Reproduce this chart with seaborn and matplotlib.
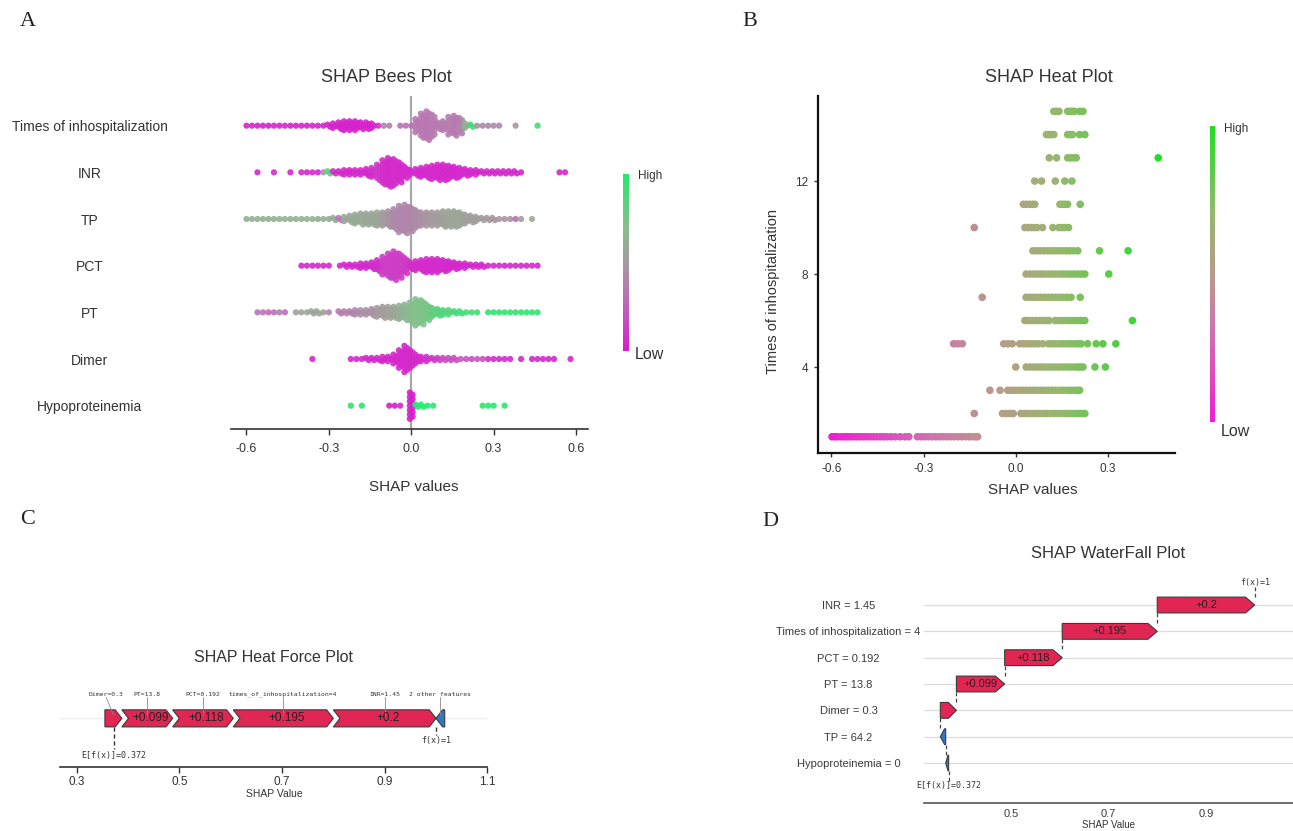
import numpy as np
import pandas as pd
import matplotlib
matplotlib.use("Agg")
import matplotlib.pyplot as plt
import seaborn as sns
from matplotlib.colors import LinearSegmentedColormap, Normalize
from matplotlib.cm import ScalarMappable
from matplotlib.patches import Polygon
from matplotlib.ticker import FormatStrFormatter

# ======================= DATA =======================
# ---- Panel A: beeswarm (counts of points per 0.02-wide SHAP bin, and feature colour 0=low .. 1=high)
bee_features = ["Times of inhospitalization", "INR", "TP", "PCT", "PT", "Dimer", "Hypoproteinemia"]
bee_bins = [-0.60, -0.58, -0.56, -0.54, -0.52, -0.50, -0.48, -0.46, -0.44, -0.42,
            -0.40, -0.38, -0.36, -0.34, -0.32, -0.30, -0.28, -0.26, -0.24, -0.22,
            -0.20, -0.18, -0.16, -0.14, -0.12, -0.10, -0.08, -0.06, -0.04, -0.02,
            0.00, 0.02, 0.04, 0.06, 0.08, 0.10, 0.12, 0.14, 0.16, 0.18,
            0.20, 0.22, 0.24, 0.26, 0.28, 0.30, 0.32, 0.34, 0.36, 0.38,
            0.40, 0.42, 0.44, 0.46, 0.48, 0.50, 0.52, 0.54, 0.56, 0.58, 0.60]

times_n = [1, 1, 1, 1, 1, 1, 1, 1, 1, 1,
           1, 1, 1, 1, 1, 2, 3, 4, 5, 5,
           5, 4, 4, 3, 1, 1, 1, 0, 1, 1,
           1, 7, 12, 14, 11, 4, 5, 9, 10, 8,
           3, 2, 1, 1, 1, 1, 1, 0, 0, 1,
           0, 0, 0, 1, 0, 0, 0, 0, 0, 0, 0]
times_c = [0.02, 0.02, 0.02, 0.02, 0.02, 0.02, 0.02, 0.02, 0.02, 0.02,
           0.02, 0.02, 0.02, 0.02, 0.02, 0.02, 0.02, 0.02, 0.02, 0.02,
           0.02, 0.02, 0.02, 0.02, 0.05, 0.38, 0.38, 0.0, 0.3, 0.3,
           0.3, 0.33, 0.35, 0.33, 0.36, 0.33, 0.35, 0.37, 0.33, 0.38,
           0.6, 0.9, 0.45, 0.42, 0.4, 0.42, 0.4, 0.0, 0.0, 0.48,
           0.0, 0.0, 0.0, 0.95, 0.0, 0.0, 0.0, 0.0, 0.0, 0.0, 0.0]

inr_n = [0, 0, 1, 0, 0, 1, 0, 0, 1, 0,
         1, 1, 1, 1, 1, 2, 2, 2, 3, 3,
         3, 3, 4, 5, 8, 12, 14, 13, 10, 6,
         3, 4, 5, 6, 7, 8, 8, 7, 6, 5,
         4, 3, 3, 2, 2, 2, 2, 2, 2, 2,
         1, 0, 0, 0, 0, 0, 0, 1, 1, 0, 0]
inr_c = [0.04, 0.04, 0.04, 0.04, 0.04, 0.04, 0.04, 0.04, 0.04, 0.04,
         0.04, 0.04, 0.04, 0.04, 0.45, 0.85, 0.04, 0.04, 0.04, 0.04,
         0.04, 0.04, 0.04, 0.06, 0.1, 0.06, 0.05, 0.06, 0.05, 0.04,
         0.04, 0.04, 0.04, 0.04, 0.04, 0.04, 0.04, 0.04, 0.04, 0.04,
         0.04, 0.04, 0.04, 0.04, 0.04, 0.04, 0.04, 0.04, 0.04, 0.04,
         0.04, 0.04, 0.04, 0.04, 0.04, 0.04, 0.04, 0.04, 0.04, 0.04, 0.04]

tp_n = [1, 1, 1, 1, 1, 1, 1, 1, 1, 1,
        1, 1, 1, 1, 1, 1, 2, 2, 3, 4,
        5, 6, 6, 6, 7, 7, 8, 10, 13, 14,
        12, 9, 7, 7, 7, 7, 8, 8, 8, 7,
        5, 4, 3, 2, 2, 2, 1, 1, 1, 1,
        1, 0, 1, 0, 0, 0, 0, 0, 0, 0, 0]
tp_c = [0.62, 0.62, 0.62, 0.62, 0.62, 0.62, 0.62, 0.62, 0.62, 0.62,
        0.62, 0.62, 0.62, 0.6, 0.6, 0.6, 0.58, 0.35, 0.58, 0.58,
        0.58, 0.58, 0.56, 0.56, 0.55, 0.5, 0.45, 0.42, 0.4, 0.4,
        0.4, 0.42, 0.45, 0.48, 0.5, 0.5, 0.52, 0.55, 0.55, 0.55,
        0.52, 0.5, 0.5, 0.5, 0.5, 0.48, 0.48, 0.48, 0.45, 0.3,
        0.5, 0.0, 0.62, 0.0, 0.0, 0.0, 0.0, 0.0, 0.0, 0.0, 0.0]

pct_n = [0, 0, 0, 0, 0, 0, 0, 0, 0, 0,
         1, 1, 1, 1, 1, 1, 0, 1, 2, 2,
         2, 3, 3, 4, 6, 9, 12, 14, 12, 8,
         4, 5, 6, 7, 7, 7, 6, 5, 4, 3,
         3, 2, 2, 2, 1, 1, 1, 1, 1, 1,
         1, 1, 1, 1, 0, 0, 0, 0, 0, 0, 0]
pct_c = [0.04, 0.04, 0.04, 0.04, 0.04, 0.04, 0.04, 0.04, 0.04, 0.04,
         0.04, 0.04, 0.04, 0.04, 0.04, 0.04, 0.04, 0.04, 0.04, 0.04,
         0.04, 0.04, 0.04, 0.05, 0.06, 0.12, 0.12, 0.12, 0.12, 0.1,
         0.06, 0.05, 0.05, 0.05, 0.05, 0.05, 0.05, 0.04, 0.04, 0.04,
         0.04, 0.04, 0.04, 0.04, 0.04, 0.04, 0.04, 0.04, 0.04, 0.04,
         0.04, 0.04, 0.04, 0.04, 0.04, 0.04, 0.04, 0.04, 0.04, 0.04, 0.04]

pt_n = [0, 0, 1, 1, 1, 1, 1, 1, 0, 1,
        1, 1, 2, 2, 1, 1, 0, 2, 2, 2,
        3, 3, 3, 4, 5, 6, 6, 6, 7, 8,
        10, 13, 12, 8, 5, 4, 3, 3, 2, 2,
        1, 1, 1, 0, 1, 1, 1, 1, 1, 1,
        1, 1, 1, 1, 0, 0, 0, 0, 0, 0, 0]
pt_c = [0.0, 0.0, 0.3, 0.32, 0.28, 0.3, 0.35, 0.3, 0.0, 0.5,
        0.55, 0.55, 0.55, 0.58, 0.5, 0.4, 0.0, 0.35, 0.4, 0.35,
        0.4, 0.45, 0.45, 0.45, 0.5, 0.5, 0.55, 0.55, 0.6, 0.65,
        0.68, 0.72, 0.72, 0.75, 0.8, 0.85, 0.85, 0.85, 0.88, 0.9,
        0.9, 0.9, 0.9, 0.0, 0.95, 0.95, 0.95, 0.95, 0.95, 0.95,
        0.95, 0.95, 0.95, 0.95, 0.0, 0.0, 0.0, 0.0, 0.0, 0.0, 0.0]

dimer_n = [0, 0, 0, 0, 0, 0, 0, 0, 0, 0,
           0, 0, 1, 0, 0, 0, 0, 0, 0, 1,
           1, 1, 2, 2, 2, 3, 3, 5, 9, 13,
           9, 5, 3, 3, 2, 2, 2, 2, 2, 1,
           1, 1, 1, 1, 1, 1, 1, 1, 1, 0,
           1, 0, 1, 1, 1, 1, 1, 0, 0, 1, 0]
dimer_c = [0.04, 0.04, 0.04, 0.04, 0.04, 0.04, 0.04, 0.04, 0.04, 0.04,
           0.04, 0.04, 0.04, 0.04, 0.04, 0.04, 0.04, 0.04, 0.04, 0.04,
           0.04, 0.04, 0.04, 0.04, 0.04, 0.04, 0.04, 0.04, 0.04, 0.04,
           0.04, 0.05, 0.06, 0.08, 0.1, 0.12, 0.18, 0.2, 0.18, 0.22,
           0.2, 0.18, 0.22, 0.2, 0.06, 0.05, 0.05, 0.05, 0.05, 0.04,
           0.04, 0.04, 0.04, 0.04, 0.04, 0.04, 0.04, 0.04, 0.04, 0.04, 0.04]

hypo_n = [0, 0, 0, 0, 0, 0, 0, 0, 0, 0,
          0, 0, 0, 0, 0, 0, 0, 0, 0, 1,
          0, 1, 0, 0, 0, 0, 1, 1, 1, 0,
          13, 2, 2, 1, 1, 0, 0, 0, 0, 0,
          0, 0, 0, 1, 1, 1, 0, 1, 0, 0,
          0, 0, 0, 0, 0, 0, 0, 0, 0, 0, 0]
hypo_c = [0.0, 0.0, 0.0, 0.0, 0.0, 0.0, 0.0, 0.0, 0.0, 0.0,
          0.0, 0.0, 0.0, 0.0, 0.0, 0.0, 0.0, 0.0, 0.0, 1.0,
          0.0, 1.0, 0.0, 0.0, 0.0, 0.0, 0.0, 0.0, 0.05, 0.0,
          0.0, 1.0, 1.0, 1.0, 1.0, 0.0, 0.0, 0.0, 0.0, 0.0,
          0.0, 0.0, 0.0, 1.0, 1.0, 1.0, 0.0, 1.0, 0.0, 0.0,
          0.0, 0.0, 0.0, 0.0, 0.0, 0.0, 0.0, 0.0, 0.0, 0.0, 0.0]

bee_counts = [times_n, inr_n, tp_n, pct_n, pt_n, dimer_n, hypo_n]
bee_colors = [times_c, inr_c, tp_c, pct_c, pt_c, dimer_c, hypo_c]

# ---- Panel B: dependence plot (SHAP values per number of hospitalisations)
heat_times = [15, 14, 13, 12, 11, 10, 9, 8, 7, 6, 5, 4, 3, 2, 1]
heat_shap = [
    [0.124, 0.132, 0.141, 0.169, 0.178, 0.186, 0.191, 0.208, 0.219],
    [0.100, 0.108, 0.116, 0.124, 0.169, 0.177, 0.185, 0.208, 0.225],
    [0.109, 0.133, 0.169, 0.178, 0.188, 0.197, 0.464],
    [0.062, 0.084, 0.129, 0.160, 0.183],
    [0.025, 0.035, 0.045, 0.055, 0.062, 0.144, 0.152, 0.160, 0.169, 0.210],
    [-0.135, 0.030, 0.040, 0.050, 0.060, 0.070, 0.087, 0.121, 0.140, 0.150, 0.160, 0.172],
    [0.056, 0.068, 0.080, 0.092, 0.104, 0.116, 0.128, 0.140, 0.152, 0.164, 0.176, 0.188, 0.202,
     0.273, 0.366],
    [0.034, 0.046, 0.058, 0.070, 0.082, 0.094, 0.106, 0.118, 0.130, 0.142, 0.154, 0.166, 0.178,
     0.190, 0.202, 0.214, 0.225, 0.303],
    [-0.109, 0.034, 0.046, 0.058, 0.070, 0.082, 0.094, 0.106, 0.118, 0.130, 0.142, 0.154, 0.166,
     0.180, 0.210],
    [0.030, 0.042, 0.054, 0.066, 0.078, 0.090, 0.100, 0.109, 0.129, 0.141, 0.153, 0.165, 0.177,
     0.189, 0.201, 0.213, 0.225, 0.380],
    [-0.202, -0.188, -0.174, -0.039, -0.025, -0.011, 0.013, 0.025, 0.037, 0.049, 0.061, 0.073,
     0.088, 0.107, 0.119, 0.131, 0.143, 0.155, 0.167, 0.179, 0.191, 0.203, 0.213, 0.234, 0.262,
     0.284, 0.326],
    [0.000, 0.034, 0.046, 0.058, 0.070, 0.082, 0.094, 0.106, 0.118, 0.130, 0.142, 0.154, 0.166,
     0.178, 0.190, 0.202, 0.210, 0.219, 0.258, 0.292],
    [-0.084, -0.051, -0.026, -0.014, -0.002, 0.010, 0.022, 0.034, 0.046, 0.058, 0.070, 0.082,
     0.094, 0.106, 0.118, 0.130, 0.142, 0.154, 0.166, 0.178, 0.190, 0.200, 0.208],
    [-0.135, -0.043, -0.031, -0.019, -0.008, 0.017, 0.029, 0.041, 0.053, 0.065, 0.077, 0.089,
     0.101, 0.113, 0.125, 0.137, 0.149, 0.161, 0.173, 0.185, 0.197, 0.209, 0.217, 0.225],
    [-0.598, -0.588, -0.579, -0.566, -0.557, -0.548, -0.539, -0.528, -0.517, -0.506, -0.495,
     -0.484, -0.473, -0.462, -0.451, -0.440, -0.429, -0.418, -0.405, -0.392, -0.376, -0.360,
     -0.348, -0.320, -0.308, -0.296, -0.284, -0.272, -0.260, -0.248, -0.236, -0.224, -0.212,
     -0.200, -0.188, -0.176, -0.164, -0.152, -0.140, -0.130, -0.124],
]

# ---- Panels C and D: single-sample explanation
wf_labels = ["INR = 1.45", "Times of inhospitalization = 4", "PCT = 0.192", "PT = 13.8",
             "Dimer = 0.3", "TP = 64.2", "Hypoproteinemia = 0"]
wf_values = [0.200, 0.195, 0.118, 0.099, 0.033, -0.011, -0.006]
base_value = 0.372

force_labels = ["Dimer=0.3", "PT=13.8", "PCT=0.192", "times_of_inhospitalization=4", "INR=1.45"]
force_values = [0.033, 0.099, 0.118, 0.195, 0.200]
force_other_label = "2 other features"
force_other_value = -0.017

# ======================= STYLE =======================
sns.set_theme(style="white")
plt.rcParams["font.family"] = ["Liberation Sans", "DejaVu Sans"]
plt.rcParams["axes.unicode_minus"] = False

W, H = 1293, 831
fig = plt.figure(figsize=(W / 100, H / 100), dpi=100)
fig.patch.set_facecolor("white")
TXT = "#333333"
RED = "#e22654"
BLUE = "#2f7ac4"
MONO = "DejaVu Sans Mono"


def px_axes(left, top, right, bottom):
    return fig.add_axes([left / W, 1 - bottom / H, (right - left) / W, (bottom - top) / H])


def ftext(x, y, s, **kw):
    return fig.text(x / W, 1 - y / H, s, **kw)


cmap_bees = LinearSegmentedColormap.from_list(
    "bees", [(0.0, "#d81ccf"), (0.3, "#bd6fb7"), (0.5, "#a39c9c"), (0.7, "#86bf8c"), (1.0, "#22ea6c")])
cmap_heat = LinearSegmentedColormap.from_list(
    "heat", [(0.0, "#ee1ed2"), (0.3, "#d070b0"), (0.5, "#b99a88"), (0.7, "#97b76e"), (1.0, "#1fe022")])

# panel letters
for lab, (lx, ly) in zip("ABCD", [(28, 21), (750, 21), (28, 520), (770, 521)]):
    ftext(lx, ly, lab, ha="center", va="center", fontsize=16,
          family="Liberation Serif", color="#222222")

# ======================= PANEL A =======================
axA = px_axes(231, 96, 588, 429)
step = 0.047
rows_x, rows_y, rows_c = [], [], []
for r, (cnts, cols) in enumerate(zip(bee_counts, bee_colors)):
    for b, n, c in zip(bee_bins, cnts, cols):
        for k in range(n):
            shift = 0.0 if n == 1 else (0.005 if k % 2 else -0.005)
            rows_x.append(b + shift)
            rows_y.append(r + (k - (n - 1) / 2) * step)
            rows_c.append(c)
dfA = pd.DataFrame({"shap": rows_x, "row": rows_y, "val": rows_c})
axA.axvline(0, color="#a8a8a8", lw=1.6, zorder=1)
sns.scatterplot(data=dfA, x="shap", y="row", hue="val", palette=cmap_bees, hue_norm=(0, 1),
                s=20, linewidth=0, alpha=0.9, legend=False, ax=axA, zorder=2)
axA.set_xlim(-0.6564, 0.6437)
axA.set_ylim(6.5, -0.636)
axA.set_xticks([-0.6, -0.3, 0.0, 0.3, 0.6])
axA.xaxis.set_major_formatter(FormatStrFormatter("%.1f"))
axA.set_yticks(range(len(bee_features)))
axA.set_yticklabels(bee_features)
axA.tick_params(axis="y", length=0, pad=101.9, labelsize=10, labelcolor=TXT)
for t in axA.get_yticklabels():
    t.set_ha("center")
axA.tick_params(axis="x", length=4, width=1, color="#333333", labelsize=9, labelcolor=TXT,
                pad=6, bottom=True)
for s in ["top", "left", "right"]:
    axA.spines[s].set_visible(False)
axA.spines["bottom"].set_color("#333333")
axA.spines["bottom"].set_linewidth(1.2)
axA.set_xlabel("SHAP values", fontsize=11, color=TXT)
axA.set_ylabel("")
axA.xaxis.set_label_coords((413.6 - 231) / 357, (429 - 487) / 333)
axA.xaxis.label.set_va("center")
ftext(386, 77, "SHAP Bees Plot", ha="center", va="center", fontsize=13, color=TXT)

caxA = px_axes(623, 174, 628.5, 351)
cbA = fig.colorbar(ScalarMappable(norm=Normalize(0, 1), cmap=cmap_bees), cax=caxA)
cbA.outline.set_visible(False)
cbA.set_ticks([])
ftext(638, 176, "High", ha="left", va="center", fontsize=8.5, color=TXT)
ftext(635, 355, "Low", ha="left", va="center", fontsize=11.5, color=TXT)

# ======================= PANEL B =======================
axB = px_axes(817.6, 96, 1174.5, 453.3)
bx, by = [], []
for t, vals in zip(heat_times, heat_shap):
    for v in vals:
        bx.append(v)
        by.append(t)
dfB = pd.DataFrame({"shap": bx, "times": by})
sns.scatterplot(data=dfB, x="shap", y="times", hue="shap", palette=cmap_heat,
                hue_norm=(-0.6, 0.464), s=30, linewidth=0, legend=False, ax=axB)
axB.set_xlim(-0.645, 0.517)
axB.set_ylim(0.288, 15.66)
axB.set_xticks([-0.6, -0.3, 0.0, 0.3])
axB.xaxis.set_major_formatter(FormatStrFormatter("%.1f"))
axB.set_yticks([4, 8, 12])
for s in ["top", "right"]:
    axB.spines[s].set_visible(False)
for s in ["left", "bottom"]:
    axB.spines[s].set_color("#111111")
    axB.spines[s].set_linewidth(1.6)
axB.tick_params(axis="both", length=3, width=1, color="#333333", labelsize=8.5,
                labelcolor=TXT, bottom=True, left=True, pad=4)
axB.set_xlabel("SHAP values", fontsize=11, color=TXT)
axB.set_ylabel("Times of inhospitalization", fontsize=10.5, color=TXT)
axB.xaxis.set_label_coords((1033 - 817.6) / 356.9, (453.3 - 490) / 357.3)
axB.xaxis.label.set_va("center")
axB.yaxis.set_label_coords((772.8 - 817.6) / 356.9, (453.3 - 291.7) / 357.3)
axB.yaxis.label.set_va("center")
ftext(1049, 77, "SHAP Heat Plot", ha="center", va="center", fontsize=13, color=TXT)

caxB = px_axes(1209.5, 126, 1215, 422)
cbB = fig.colorbar(ScalarMappable(norm=Normalize(0, 1), cmap=cmap_heat), cax=caxB)
cbB.outline.set_visible(False)
cbB.set_ticks([])
ftext(1224, 129, "High", ha="left", va="center", fontsize=8.5, color=TXT)
ftext(1221, 432, "Low", ha="left", va="center", fontsize=11.5, color=TXT)

# ======================= PANEL C (force plot) =======================
fx = base_value + sum(wf_values)
axC = px_axes(60, 676, 487.3, 766.7)
axC.set_xlim(0.2675, 1.1)
axC.set_ylim(0, 1)
yc, hh, headC = 0.533, 0.094, 0.013
axC.axhline(yc, color="#eeeeee", lw=1.0, zorder=0)
x = fx - sum(force_values)
for i, (lab, v) in enumerate(zip(force_labels, force_values)):
    x0, x1 = x, x + v
    hd = min(headC, v)
    pts = [(x0, yc - hh), (x1 - hd, yc - hh), (x1, yc), (x1 - hd, yc + hh), (x0, yc + hh)]
    if i > 0:
        pts.append((x0 + hd, yc))
    axC.add_patch(Polygon(pts, closed=True, fc=RED, ec="#3a3a3a", lw=0.8, zorder=2))
    cx = (x0 + x1) / 2
    if v > 0.05:
        axC.text(cx + hd / 2, yc, f"+{v:g}", ha="center", va="center", fontsize=8.5,
                 color="#222222", zorder=4)
    lx = cx if i > 0 else cx - 0.014
    axC.text(lx, 0.80, lab, ha="center", va="center", fontsize=4.6, family=MONO, color=TXT)
    axC.plot([lx, cx], [0.765, yc + 0.04], color="#8a8a8a", lw=0.6, zorder=3)
    x = x1
# negative ("2 other features")
x0, x1 = fx - force_other_value, fx
hd = min(headC, abs(force_other_value) * 0.8)
pts = [(x0, yc - hh), (x1 + hd, yc - hh), (x1, yc), (x1 + hd, yc + hh), (x0, yc + hh)]
axC.add_patch(Polygon(pts, closed=True, fc=BLUE, ec="#3a3a3a", lw=0.8, zorder=2))
ocx = (x0 + x1) / 2
axC.text(ocx, 0.80, force_other_label, ha="center", va="center", fontsize=4.6, family=MONO,
         color=TXT)
axC.plot([ocx, ocx], [0.765, yc + 0.04], color="#8a8a8a", lw=0.6, zorder=3)
# base / output markers
axC.plot([base_value, base_value], [yc - hh, 0.2], color="#333333", lw=1.0, ls=(0, (3, 2)))
axC.text(base_value, 0.122, f"E[f(x)]={base_value}", ha="center", va="center", fontsize=6,
         family=MONO, color=TXT)
axC.plot([fx, fx], [yc - hh, 0.35], color="#333333", lw=1.0, ls=(0, (3, 2)))
axC.text(fx, 0.289, f"f(x)={fx:g}", ha="center", va="center", fontsize=6, family=MONO, color=TXT)
axC.set_xticks([0.3, 0.5, 0.7, 0.9, 1.1])
axC.xaxis.set_major_formatter(FormatStrFormatter("%.1f"))
axC.set_yticks([])
for s in ["top", "left", "right"]:
    axC.spines[s].set_visible(False)
axC.spines["bottom"].set_color("#333333")
axC.spines["bottom"].set_linewidth(1.2)
axC.tick_params(axis="x", length=4, width=1, color="#333333", labelsize=8.5, labelcolor=TXT,
                bottom=True, pad=3)
axC.set_xlabel("SHAP Value", fontsize=7.5, color=TXT)
axC.xaxis.set_label_coords((274 - 60) / 427.3, (766.7 - 794) / 90.7)
axC.xaxis.label.set_va("center")
ftext(274, 657, "SHAP Heat Force Plot", ha="center", va="center", fontsize=11.5, color=TXT)

# ======================= PANEL D (waterfall) =======================
axD = px_axes(924, 570, 1293, 802.5)
axD.set_xlim(0.3215, 1.0785)
axD.set_ylim(7.5, -1.33)
nrow = len(wf_labels)
for r in range(nrow):
    axD.axhline(r, color="#dcdcdc", lw=0.9, zorder=0)
bh, headD = 0.3, 0.019
starts, ends = [0.0] * nrow, [0.0] * nrow
cur = base_value
for r in range(nrow - 1, -1, -1):
    starts[r] = cur
    ends[r] = cur + wf_values[r]
    cur = ends[r]
for r in range(nrow):
    s0, e0, v = starts[r], ends[r], wf_values[r]
    hd = min(headD, abs(v) * 0.5)
    if v >= 0:
        pts = [(s0, r - bh), (e0 - hd, r - bh), (e0, r), (e0 - hd, r + bh), (s0, r + bh)]
        fc = RED
    else:
        hd = min(headD, abs(v) * 0.8)
        pts = [(s0, r - bh), (e0 + hd, r - bh), (e0, r), (e0 + hd, r + bh), (s0, r + bh)]
        fc = BLUE
    axD.add_patch(Polygon(pts, closed=True, fc=fc, ec="#3a3a3a", lw=0.8, zorder=2))
    if abs(v) > 0.05:
        axD.text((s0 + e0) / 2, r, f"+{v:g}", ha="center", va="center", fontsize=8,
                 color="#222222", zorder=4)
    if r < nrow - 1:
        axD.plot([s0, s0], [r + bh, r + 1 - bh], color="#444444", lw=0.9, ls=(0, (3, 2)), zorder=3)
axD.plot([ends[0], ends[0]], [-bh, -0.68], color="#444444", lw=0.9, ls=(0, (3, 2)))
axD.text(ends[0], -0.86, f"f(x)={ends[0]:g}", ha="center", va="center", fontsize=6,
         family=MONO, color=TXT)
axD.plot([base_value, base_value], [nrow - 1 + bh, nrow - 1 + 0.72], color="#444444", lw=0.9,
         ls=(0, (3, 2)))
axD.text(base_value, nrow - 1 + 0.86, f"E[f(x)]={base_value}", ha="center", va="center",
         fontsize=6, family=MONO, color=TXT)
axD.set_yticks(range(nrow))
axD.set_yticklabels(wf_labels)
axD.tick_params(axis="y", length=0, pad=54.4, labelsize=8, labelcolor="#3a3a3a")
for t in axD.get_yticklabels():
    t.set_ha("center")
axD.set_xticks([0.5, 0.7, 0.9])
axD.xaxis.set_major_formatter(FormatStrFormatter("%.1f"))
axD.tick_params(axis="x", length=0, labelsize=8, labelcolor="#3a3a3a", pad=5)
for s in ["top", "left", "right"]:
    axD.spines[s].set_visible(False)
axD.spines["bottom"].set_color("#555555")
axD.spines["bottom"].set_linewidth(1.2)
axD.set_xlabel("SHAP Value", fontsize=7, color=TXT)
axD.xaxis.set_label_coords((1108.6 - 924) / 369, (802.5 - 824.5) / 232.5)
axD.xaxis.label.set_va("center")
ftext(1108, 553, "SHAP WaterFall Plot", ha="center", va="center", fontsize=12, color=TXT)

fig.savefig("out.png", dpi=100)
